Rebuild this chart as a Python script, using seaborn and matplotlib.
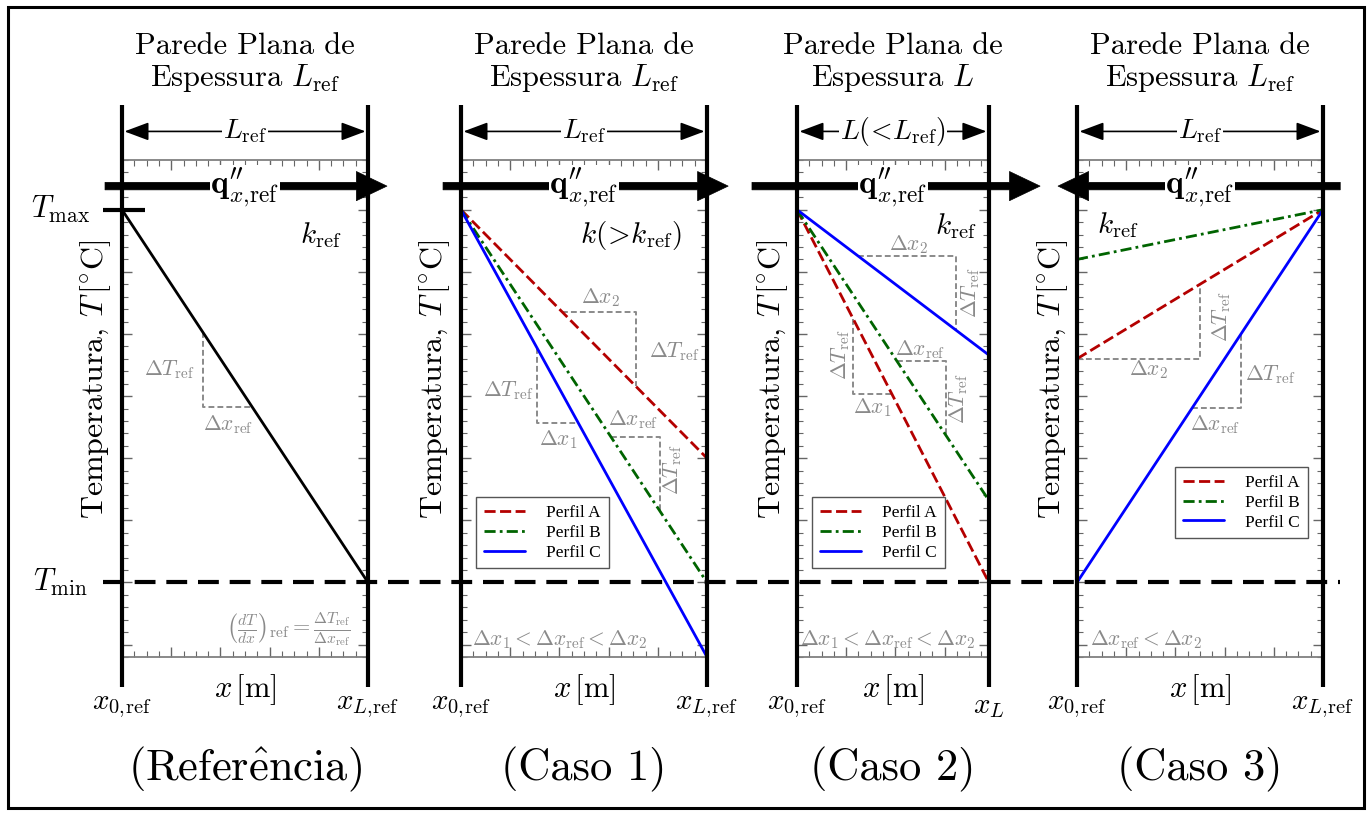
import matplotlib
matplotlib.use("Agg")
import numpy as np
import pandas as pd
import matplotlib.pyplot as plt
import matplotlib.transforms as mtransforms
import seaborn as sns
from matplotlib.lines import Line2D
from matplotlib.patches import Rectangle
from matplotlib.ticker import MultipleLocator

# dados do esquema (T em unidades arbitrarias, Tmin = 0, Tmax = 6)
T_MIN, T_MAX = 0.0, 6.0
DT_REF = 1.2
L_REF = 1.0
L_CASO2 = 0.78

perfis = ["Perfil A", "Perfil B", "Perfil C"]
cores = {"Perfil A": "#b40000", "Perfil B": "#006400", "Perfil C": "#0000ff"}
tracos = {"Perfil A": (4, 1.6), "Perfil B": (4, 1.5, 1, 1.5), "Perfil C": ""}

# temperatura em x = 0 e x = L
ref_T = [6.0, 0.0]
caso1_T = {"Perfil A": [6.0, 2.0], "Perfil B": [6.0, 0.0], "Perfil C": [6.0, -1.2]}
caso2_T = {"Perfil A": [6.0, 0.0], "Perfil B": [6.0, 1.32], "Perfil C": [6.0, 3.66]}
caso3_T = {"Perfil A": [3.6, 6.0], "Perfil B": [5.2, 6.0], "Perfil C": [0.0, 6.0]}

# triangulos de inclinacao: (perfil, x inicial, forma)
ref_tri = [("ref", 0.328, "vh")]
caso1_tri = [("Perfil A", 0.41, "hv"), ("Perfil B", 0.61, "hv"), ("Perfil C", 0.31, "vh")]
caso2_tri = [("Perfil A", 0.229, "vh"), ("Perfil B", 0.406, "hv"), ("Perfil C", 0.247, "hv")]
caso3_tri = [("Perfil A", 0.0, "hv"), ("Perfil C", 0.467, "hv")]

DT = r"$\Delta T_{\mathrm{ref}}$"
DXR = r"$\Delta x_{\mathrm{ref}}$"
# rotulos dos triangulos: (texto, x, y, rotacao)
ref_rot = [(DT, 0.194, 3.43, 0), (DXR, 0.43, 2.54, 0)]
caso1_rot = [(r"$\Delta x_2$", 0.567, 4.59, 0), (DT, 0.865, 3.72, 0),
             (DT, 0.19, 3.09, 0), (r"$\Delta x_1$", 0.396, 2.30, 0),
             (DXR, 0.70, 2.62, 0), (DT, 0.86, 1.82, 90)]
caso2_rot = [(r"$\Delta x_2$", 0.453, 5.43, 0), (DT, 0.706, 4.67, 90),
             (DT, 0.176, 3.67, 90), (r"$\Delta x_1$", 0.306, 2.82, 0),
             (DXR, 0.502, 3.75, 0), (DT, 0.657, 2.95, 90)]
caso3_rot = [(DT, 0.59, 4.27, 90), (r"$\Delta x_2$", 0.289, 3.43, 0),
             (DT, 0.785, 3.35, 0), (DXR, 0.561, 2.54, 0)]

sns.set_style("white")
plt.rcParams["font.family"] = ["cmr10", "DejaVu Serif"]
plt.rcParams["mathtext.fontset"] = "cm"
plt.rcParams["axes.unicode_minus"] = False
plt.rcParams["axes.formatter.use_mathtext"] = True
plt.rcParams["text.color"] = "black"

W, H = 1372, 815
fig = plt.figure(figsize=(W / 100, H / 100), dpi=100)
PX = 246.0
esq_px = [122, 461, 797, 1077]
comp = [L_REF, L_REF, L_CASO2, L_REF]
axes = []
for e, L in zip(esq_px, comp):
    ax = fig.add_axes([e / W, 158 / H, L * PX / W, 497 / H])
    ax.patch.set_visible(False)
    axes.append(ax)

CINZA = "#8a8a8a"


def base(ax, L, titulo, dim, xr, caso, seta, ylab_x):
    ax.set_xlim(0, L)
    ax.set_ylim(-1.2, 6.8)
    ax.xaxis.set_major_locator(MultipleLocator(0.2))
    ax.xaxis.set_minor_locator(MultipleLocator(0.05))
    ax.yaxis.set_major_locator(MultipleLocator(1))
    ax.yaxis.set_minor_locator(MultipleLocator(0.2))
    ax.tick_params(which="both", direction="in", top=True, right=True,
                   bottom=True, left=True,
                   labelbottom=False, labelleft=False, color="#666666")
    ax.tick_params(which="major", length=7, width=1)
    ax.tick_params(which="minor", length=4, width=0.8)
    for s in ["left", "right"]:
        ax.spines[s].set_visible(False)
    for s in ["top", "bottom"]:
        ax.spines[s].set_color("#808080")
        ax.spines[s].set_linewidth(1.3)
    # paredes
    for xw in [0, L]:
        ax.plot([xw, xw], [-1.68, 7.68], color="k", lw=3, clip_on=False,
                solid_capstyle="butt", zorder=6)
    # titulo
    ax.text(L / 2, 8.36, titulo, ha="center", va="center", fontsize=22,
            linespacing=1.08)
    # cota
    ax.annotate("", xy=(L - 0.01, 7.26), xytext=(0.01, 7.26),
                arrowprops=dict(arrowstyle="<|-|>,head_length=0.75,head_width=0.28",
                                color="k", lw=1.2, mutation_scale=20,
                                shrinkA=0, shrinkB=0), annotation_clip=False)
    ax.text(L / 2, 7.26, dim, ha="center", va="center", fontsize=20,
            bbox=dict(fc="white", ec="none", pad=1))
    # fluxo de calor
    x0, x1 = seta
    ax.annotate("", xy=(x1, 6.38), xytext=(x0, 6.38),
                arrowprops=dict(arrowstyle="simple,head_length=1.1,head_width=1.05,tail_width=0.27",
                                fc="k", ec="k", lw=0.5, mutation_scale=20,
                                shrinkA=0, shrinkB=0), annotation_clip=False,
                zorder=7)
    ax.text(L / 2, 6.36, r"$\mathbf{q}^{\prime\prime}_{x,\!\mathrm{ref}}$",
            ha="center", va="center", fontsize=24, zorder=8,
            bbox=dict(fc="white", ec="none", pad=0.5))
    # eixos
    ax.text(L / 2, -1.72, r"$x\,[\mathrm{m}]$", ha="center", va="center", fontsize=22)
    ax.text(0, -2.0, r"$x_{0,\!\mathrm{ref}}$", ha="center", va="center", fontsize=21)
    ax.text(L, -2.0, xr, ha="center", va="center", fontsize=21)
    ax.text(ylab_x, 3.27, r"Temperatura, $T\,[^{\circ}\mathrm{C}]$", rotation=90,
            ha="center", va="center", fontsize=23)
    ax.text(L / 2, -3.01, caso, ha="center", va="center", fontsize=32)


def perfil_df(L, temps):
    linhas = []
    for p in perfis:
        for xv, tv in zip([0.0, L], temps[p]):
            linhas.append({"x": xv, "T": tv, "Perfil": p})
    return pd.DataFrame(linhas)


def triangulos(ax, L, temps, tris):
    for p, a, forma in tris:
        t0, t1 = temps[p]
        slope = (t1 - t0) / L
        dx = abs(DT_REF / slope)
        ya = t0 + slope * a
        yb = t0 + slope * (a + dx)
        if forma == "hv":
            xs, ys = [a, a + dx, a + dx], [ya, ya, yb]
        else:
            xs, ys = [a, a, a + dx], [ya, yb, yb]
        ax.plot(xs, ys, color=CINZA, lw=1.4, dashes=(3, 1.6), zorder=3)


def rotulos(ax, rots):
    for txt, xv, yv, r in rots:
        ax.text(xv, yv, txt, color=CINZA, fontsize=15.5, rotation=r,
                ha="center", va="center")


def legenda(ax, xy):
    hs = []
    for p in perfis:
        if tracos[p]:
            hs.append(Line2D([], [], color=cores[p], lw=2, dashes=tracos[p]))
        else:
            hs.append(Line2D([], [], color=cores[p], lw=2))
    leg = ax.legend(hs, perfis, loc="lower left", bbox_to_anchor=xy,
                    bbox_transform=ax.transData, borderaxespad=0, frameon=True,
                    fancybox=False, edgecolor="#555555", framealpha=1,
                    prop={"family": "Liberation Serif", "size": 12.5},
                    handlelength=2.4, handletextpad=1.2, borderpad=0.45,
                    labelspacing=0.2)
    leg.get_frame().set_linewidth(1.0)
    for t in leg.get_texts():
        t.set_color("black")


# ---- Referencia
ax = axes[0]
base(ax, L_REF, "Parede Plana de\nEspessura $L_{\\mathrm{ref}}$",
     r"$L_{\mathrm{ref}}$", r"$x_{L,\!\mathrm{ref}}$", r"(Refer$\hat{\mathrm{e}}$ncia)",
     (-0.069, 1.077), -0.109)
sns.lineplot(x=[0.0, L_REF], y=ref_T, color="k", lw=2, ax=ax, zorder=4)
triangulos(ax, L_REF, {"ref": ref_T}, ref_tri)
rotulos(ax, ref_rot)
ax.plot([-0.077, 0.093], [T_MAX, T_MAX], color="k", lw=3, clip_on=False,
        solid_capstyle="butt", zorder=6)
ax.text(-0.25, T_MAX, r"$T_{\mathrm{max}}$", ha="center", va="center", fontsize=22)
ax.text(-0.25, T_MIN, r"$T_{\mathrm{min}}$", ha="center", va="center", fontsize=22)
ax.text(0.81, 5.6, r"$k_{\mathrm{ref}}$", ha="center", va="center", fontsize=21)
ax.text(0.93, -0.76,
        r"$\left(\frac{dT}{dx}\right)_{\mathrm{ref}}=\frac{\Delta T_{\mathrm{ref}}}{\Delta x_{\mathrm{ref}}}$",
        color=CINZA, fontsize=16, ha="right", va="center")
ax.set_xlabel("")
ax.set_ylabel("")

casos = [
    (axes[1], L_REF, caso1_T, caso1_tri, caso1_rot,
     "Parede Plana de\nEspessura $L_{\\mathrm{ref}}$", r"$L_{\mathrm{ref}}$",
     r"$x_{L,\!\mathrm{ref}}$", "(Caso 1)", (-0.073, 1.086), -0.106,
     (0.69, 5.59, r"$k(\!>\!k_{\mathrm{ref}})$"),
     (0.045, r"$\Delta x_1<\Delta x_{\mathrm{ref}}<\Delta x_2$"), (0.061, 0.225)),
    (axes[2], L_CASO2, caso2_T, caso2_tri, caso2_rot,
     "Parede Plana de\nEspessura $L$", r"$L(\!<\!L_{\mathrm{ref}})$",
     r"$x_{L}$", "(Caso 2)", (-0.183, 0.988), -0.098,
     (0.645, 5.73, r"$k_{\mathrm{ref}}$"),
     (0.012, r"$\Delta x_1<\Delta x_{\mathrm{ref}}<\Delta x_2$"), (0.061, 0.225)),
    (axes[3], L_REF, caso3_T, caso3_tri, caso3_rot,
     "Parede Plana de\nEspessura $L_{\\mathrm{ref}}$", r"$L_{\mathrm{ref}}$",
     r"$x_{L,\!\mathrm{ref}}$", "(Caso 3)", (1.07, -0.077), -0.10,
     (0.167, 5.76, r"$k_{\mathrm{ref}}$"),
     (0.053, r"$\Delta x_{\mathrm{ref}}<\Delta x_2$"), (0.398, 0.71)),
]

for (ax, L, temps, tris, rots, tit, dim, xr, caso, seta, ylx, ktxt, fundo, legxy) in casos:
    base(ax, L, tit, dim, xr, caso, seta, ylx)
    df = perfil_df(L, temps)
    sns.lineplot(data=df, x="x", y="T", hue="Perfil", style="Perfil",
                 palette=cores, dashes=tracos, lw=2, legend=False, ax=ax,
                 sort=False, zorder=4)
    triangulos(ax, L, temps, tris)
    rotulos(ax, rots)
    ax.text(ktxt[0], ktxt[1], ktxt[2], ha="center", va="center", fontsize=21)
    ax.text(fundo[0], -0.92, fundo[1], color=CINZA, fontsize=15.5,
            ha="left", va="center")
    legenda(ax, legxy)
    ax.set_xlabel("")
    ax.set_ylabel("")

# linha de Tmin atravessando a figura
tr = mtransforms.blended_transform_factory(fig.transFigure, axes[0].transData)
fig.add_artist(Line2D([103 / W, 1340 / W], [T_MIN, T_MIN], transform=tr,
                      color="k", lw=3, dashes=(5, 2.6), zorder=10))

# moldura
fig.add_artist(Rectangle((8 / W, 7 / H), 1356 / W, 801 / H, transform=fig.transFigure,
                         fill=False, lw=2.2, ec="k"))

fig.savefig("out.png", dpi=100)
